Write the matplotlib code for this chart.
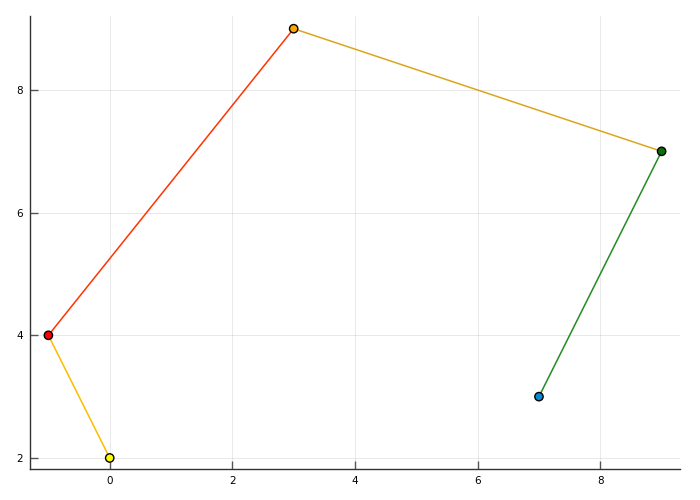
import matplotlib
matplotlib.use("Agg")
import matplotlib.pyplot as plt

x = [7, 9, 3, -1, 0]
y = [3, 7, 9, 4, 2]
marker_colors = ["#0b88d0", "#0a6e0a", "#ffa500", "#ff0000", "#ffff00"]
segment_colors = ["#228b22", "#daa520", "#ff3300", "#ffbb00"]
xticks = [0, 2, 4, 6, 8]
yticks = [2, 4, 6, 8]

fig = plt.figure(figsize=(7, 5), dpi=100)
ax = fig.add_axes([30/700, 31/500, 650/700, 453/500])

for i in range(len(x) - 1):
    ax.plot(x[i:i+2], y[i:i+2], color=segment_colors[i], lw=1.1, zorder=2, solid_capstyle="butt")
ax.scatter(x, y, s=36, c=marker_colors, edgecolors="black", linewidths=1.0, zorder=3)

ax.set_xlim(-1.3, 9.3)
ax.set_ylim(1.82, 9.207)
ax.set_xticks(xticks)
ax.set_yticks(yticks)
ax.grid(True, color="#000000", alpha=0.1, lw=0.6)
ax.set_axisbelow(True)
for s in ["top", "right"]:
    ax.spines[s].set_visible(False)
for s in ["left", "bottom"]:
    ax.spines[s].set_color("#333333")
    ax.spines[s].set_linewidth(1.0)
ax.tick_params(direction="in", length=6, width=1, color="#555555", labelsize=7.5, pad=5)

fig.savefig("out.png", dpi=100)
